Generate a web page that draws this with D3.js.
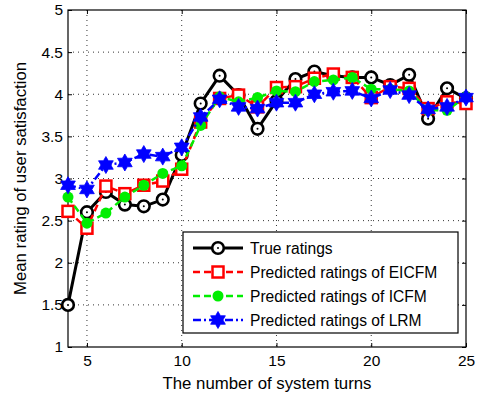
<!DOCTYPE html>
<html lang="en">
<head>
<meta charset="utf-8">
<script src="https://cdn.jsdelivr.net/npm/d3@7"></script>
<style>
  body { margin: 0; background: #fff; }
  text { font-family: "Liberation Sans", Arial, sans-serif; }
</style>
</head>
<body>
<svg id="chart" width="479" height="396"></svg>
<script>
var turns = [4,5,6,7,8,9,10,11,12,13,14,15,16,17,18,19,20,21,22,23,24,25]
var trueRatings = [1.5,2.6,2.84,2.69,2.67,2.75,3.28,3.89,4.22,3.99,3.59,3.92,4.18,4.27,4.22,4.2,4.2,4.11,4.23,3.71,4.07,3.95]
var eicfm = [2.61,2.41,2.91,2.82,2.92,2.97,3.11,3.67,3.95,3.99,3.85,4.08,4.09,4.19,4.24,4.2,3.96,4.09,4.07,3.83,3.91,3.89]
var icfm = [2.78,2.47,2.59,2.78,2.92,3.06,3.15,3.63,3.97,3.91,3.96,4.04,4.03,4.15,4.17,4.2,4.06,4.06,4.04,3.81,3.81,3.97]
var lrm = [2.92,2.87,3.16,3.19,3.29,3.26,3.37,3.73,3.94,3.85,3.83,3.9,3.9,4.0,4.03,4.04,3.95,4.05,3.99,3.82,3.85,3.96]
var xTicks = [5,10,15,20,25]
var yTicks = [1,1.5,2,2.5,3,3.5,4,4.5,5]
var legendNames = ["True ratings","Predicted ratings of EICFM","Predicted ratings of ICFM","Predicted ratings of LRM"]

var svg = d3.select("#chart")
var pLeft = 68, pRight = 466, pTop = 10, pBottom = 347

var x = d3.scaleLinear().domain([4,25]).range([pLeft,pRight])
var y = d3.scaleLinear().domain([1,5]).range([pBottom,pTop])

// grid
svg.append("g").selectAll("line").data(xTicks.slice(0,-1)).join("line")
  .attr("x1", d => x(d)).attr("x2", d => x(d))
  .attr("y1", pTop).attr("y2", pBottom)
  .attr("stroke", "#000").attr("stroke-width", 0.8).attr("stroke-dasharray", "1,4")
svg.append("g").selectAll("line").data(yTicks.slice(1,-1)).join("line")
  .attr("x1", pLeft).attr("x2", pRight)
  .attr("y1", d => y(d)).attr("y2", d => y(d))
  .attr("stroke", "#000").attr("stroke-width", 0.8).attr("stroke-dasharray", "1,4")

// axes with inward ticks
svg.append("g").attr("transform", "translate(0," + pBottom + ")")
  .call(d3.axisBottom(x).tickValues(xTicks).tickSize(-4).tickPadding(8))
svg.append("g").attr("transform", "translate(0," + pTop + ")")
  .call(d3.axisTop(x).tickValues(xTicks).tickSize(-4).tickFormat(""))
svg.append("g").attr("transform", "translate(" + pLeft + ",0)")
  .call(d3.axisLeft(y).tickValues(yTicks).tickSize(-4).tickPadding(5).tickFormat(d3.format("")))
svg.append("g").attr("transform", "translate(" + pRight + ",0)")
  .call(d3.axisRight(y).tickValues(yTicks).tickSize(-4).tickFormat(""))
svg.selectAll(".domain").remove()
svg.selectAll(".tick line").attr("stroke", "#000")
svg.selectAll(".tick text").attr("font-size", 15.5).attr("fill", "#000")

svg.append("rect").attr("x", pLeft).attr("y", pTop)
  .attr("width", pRight - pLeft).attr("height", pBottom - pTop)
  .attr("fill", "none").attr("stroke", "#000").attr("stroke-width", 1.2)

var line = d3.line().x(d => x(d[0])).y(d => y(d[1]))

var series = [
  {vals: trueRatings, color: "#000", dash: null, width: 3, marker: "circleOpen"},
  {vals: eicfm, color: "#ff0000", dash: "7,4", width: 2.5, marker: "square"},
  {vals: icfm, color: "#00ee00", dash: "7,4", width: 2.5, marker: "circleFilled"},
  {vals: lrm, color: "#0000ff", dash: "8,3,2,3", width: 2.5, marker: "star"}
]

function hexagram(r) {
  var p = []
  for (var i = 0; i < 12; i++) {
    var a = -Math.PI / 2 + i * Math.PI / 6
    var rr = i % 2 === 0 ? r : r * 0.58
    p.push([rr * Math.cos(a), rr * Math.sin(a)])
  }
  return "M" + p.join("L") + "Z"
}

function drawMarker(g, kind, color) {
  if (kind === "circleOpen") {
    g.append("circle").attr("r", 5.8).attr("fill", "#fff").attr("stroke", color).attr("stroke-width", 2.6)
    g.append("circle").attr("r", 1).attr("fill", color)
  } else if (kind === "square") {
    g.append("rect").attr("x", -5.5).attr("y", -5.5).attr("width", 11).attr("height", 11)
      .attr("fill", "#fff").attr("stroke", color).attr("stroke-width", 2.5)
  } else if (kind === "circleFilled") {
    g.append("circle").attr("r", 5.5).attr("fill", color)
  } else {
    g.append("path").attr("d", hexagram(8.5)).attr("fill", color).attr("stroke", color).attr("stroke-width", 0.8)
  }
}

// plotted in order: true first, LRM last on top
series.forEach(function(s) {
  var pts = turns.map((t, i) => [t, s.vals[i]])
  svg.append("path").attr("d", line(pts))
    .attr("fill", "none").attr("stroke", s.color).attr("stroke-width", s.width)
    .attr("stroke-dasharray", s.dash)
  pts.forEach(function(p) {
    var g = svg.append("g").attr("transform", "translate(" + x(p[0]) + "," + y(p[1]) + ")")
    drawMarker(g, s.marker, s.color)
  })
})

// legend
var lg = svg.append("g")
lg.append("rect").attr("x", 183).attr("y", 232).attr("width", 275).attr("height", 101)
  .attr("fill", "#fff").attr("stroke", "#000").attr("stroke-width", 1.2)
series.forEach(function(s, i) {
  var ly = 248 + i * 24
  lg.append("line").attr("x1", 193).attr("x2", 243).attr("y1", ly).attr("y2", ly)
    .attr("stroke", s.color).attr("stroke-width", s.width).attr("stroke-dasharray", s.dash)
  var g = lg.append("g").attr("transform", "translate(218," + ly + ")")
  drawMarker(g, s.marker, s.color)
  lg.append("text").attr("x", 250).attr("y", ly + 5.5).attr("font-size", 15.6).text(legendNames[i])
})

// axis labels
svg.append("text").attr("x", (pLeft + pRight) / 2).attr("y", 389)
  .attr("text-anchor", "middle").attr("font-size", 16.8).text("The number of system turns")
svg.append("text").attr("transform", "translate(26," + ((pTop + pBottom) / 2) + ") rotate(-90)")
  .attr("text-anchor", "middle").attr("font-size", 16.8).text("Mean rating of user satisfaction")
</script>
</body>
</html>
